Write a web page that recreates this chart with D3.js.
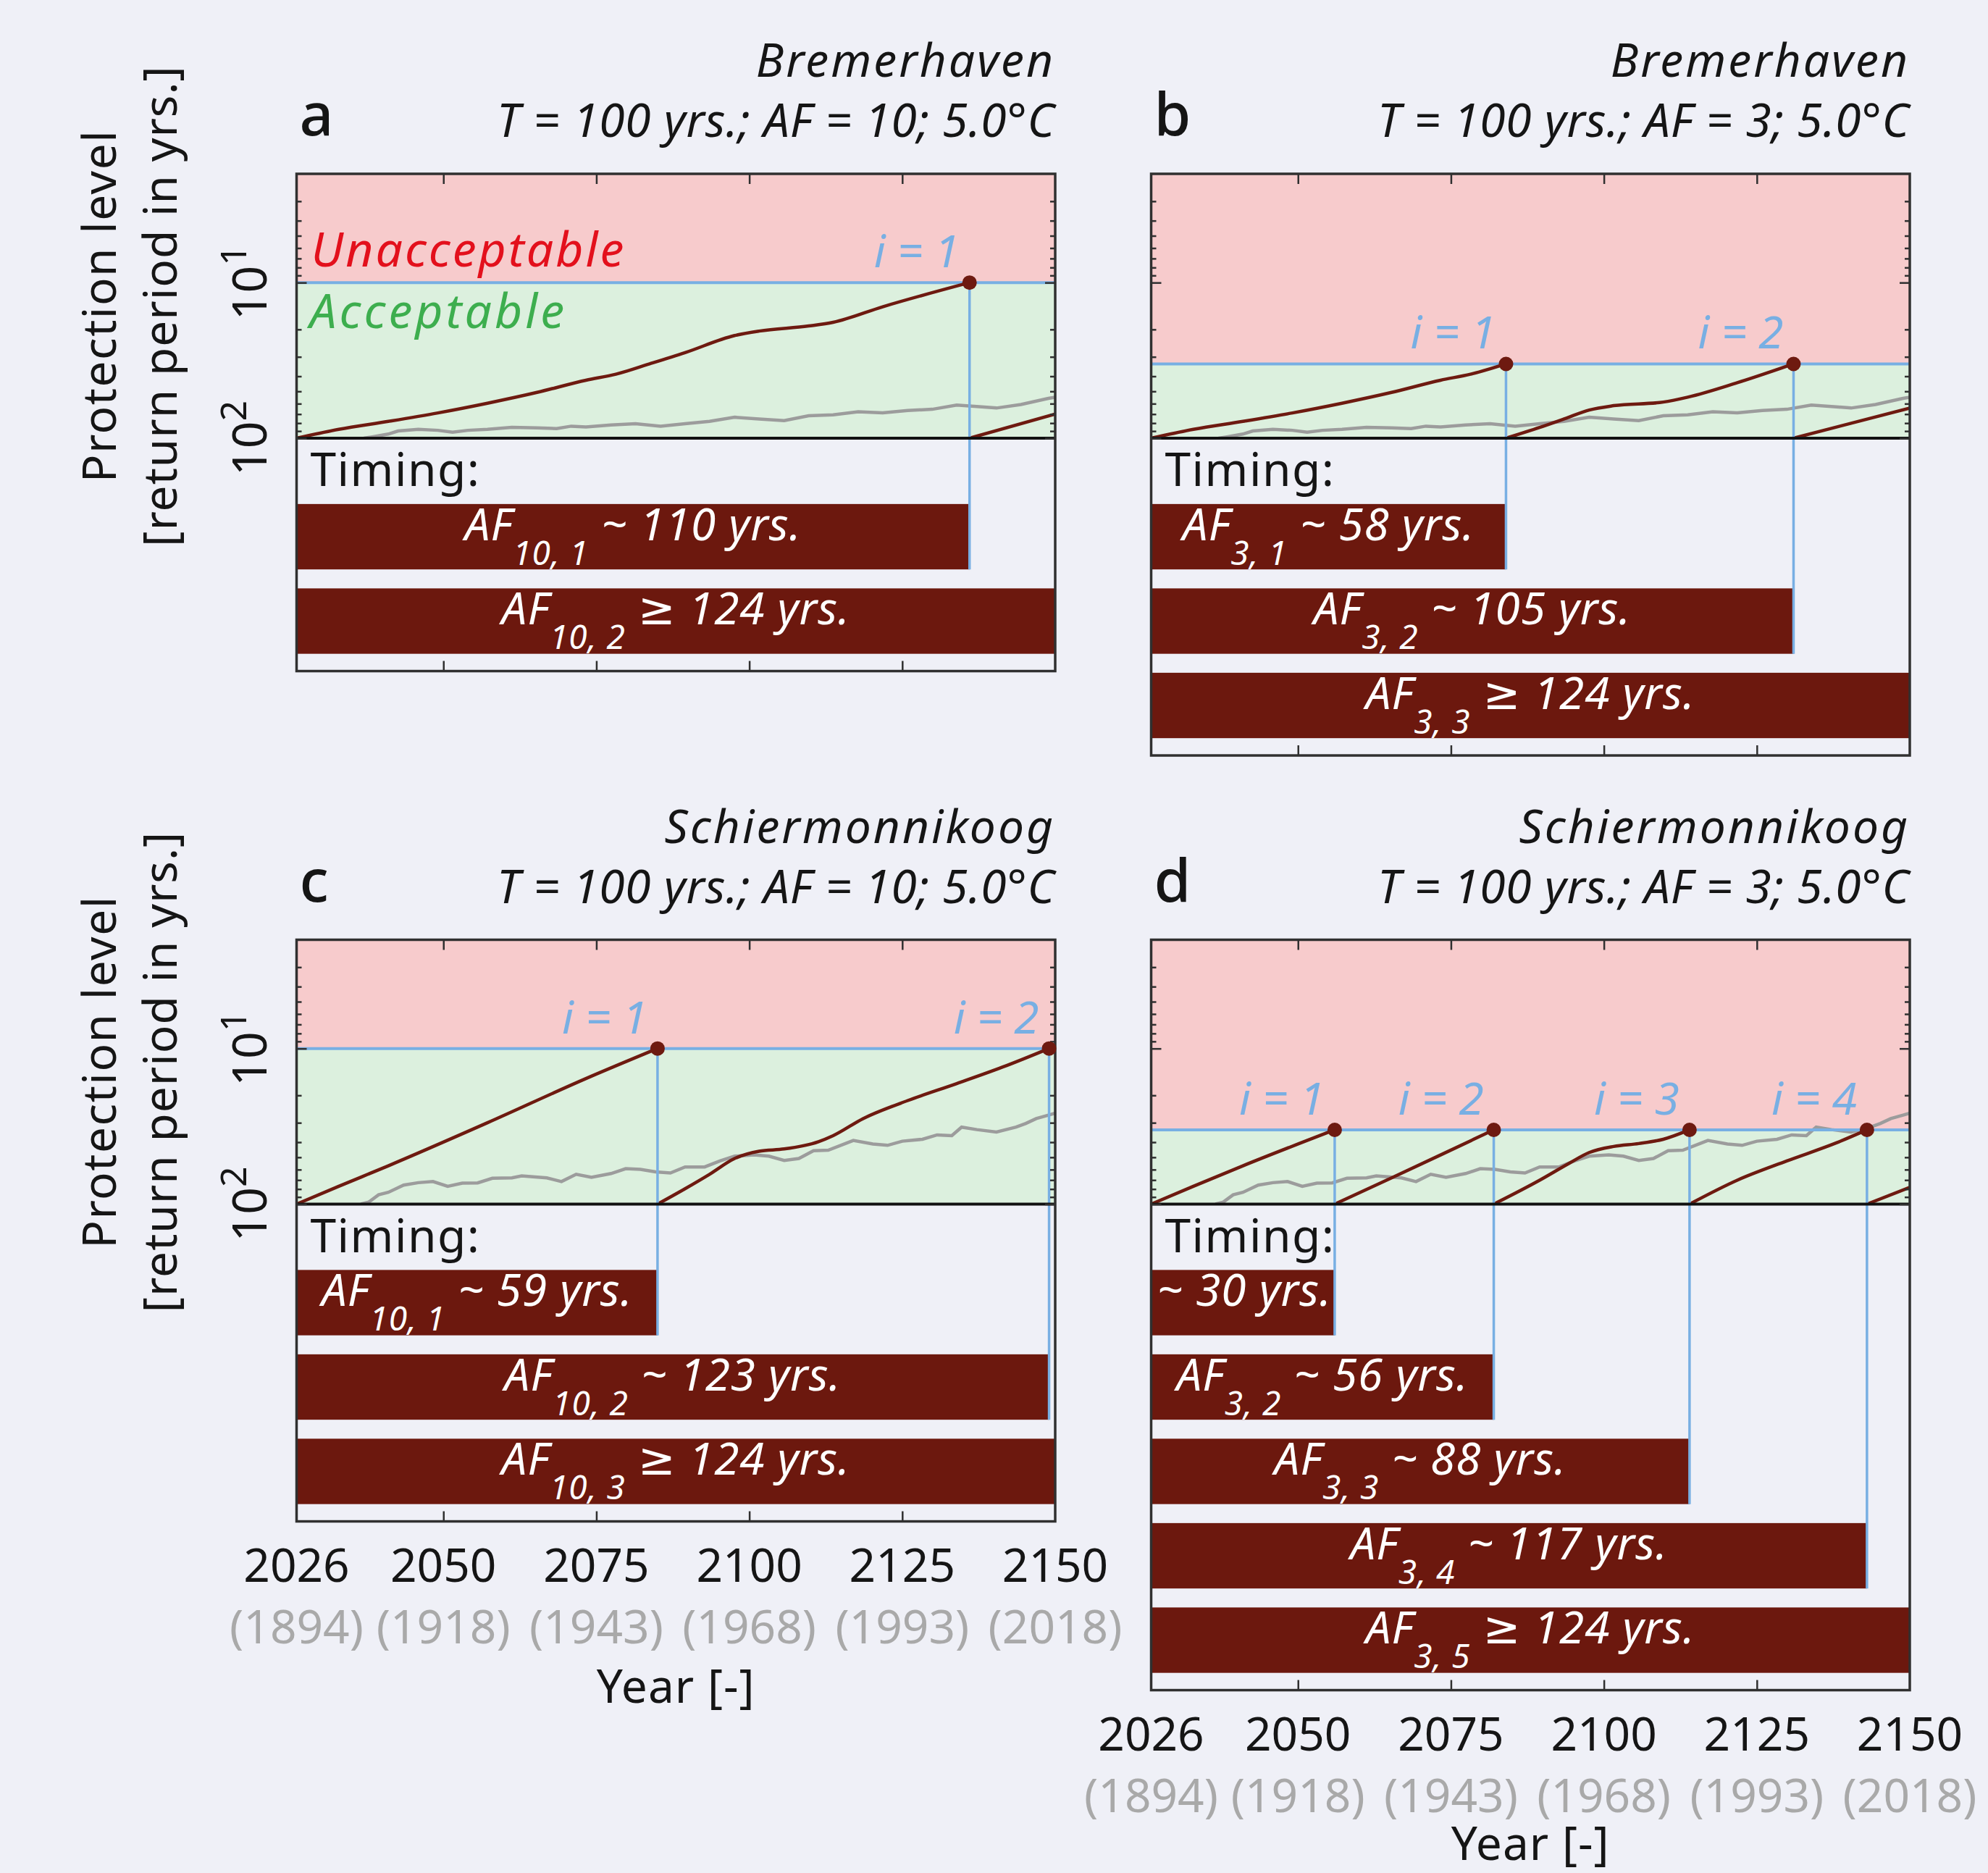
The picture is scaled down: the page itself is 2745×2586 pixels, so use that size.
<!DOCTYPE html>
<html>
<head>
<meta charset="utf-8">
<script src="https://cdn.jsdelivr.net/npm/d3@7"></script>
<style>
  body { margin: 0; background: #eff0f7; }
  svg text { font-family: "Noto Sans", "DejaVu Sans", sans-serif; }
</style>
</head>
<body>
<svg id="chart" width="2745" height="2586"></svg>
<script>
// ---- data ----
const yearTicks = [2026, 2050, 2075, 2100, 2125, 2150];
const refTicks = [1894, 1918, 1943, 1968, 1993, 2018];
const innerYearTicks = [2050, 2075, 2100, 2125];
const minorRP = [3, 4, 5, 6, 7, 8, 9, 20, 30, 40, 50, 60, 70, 80, 90];
const majorRP = [10, 100];
const labelRP = [10, 100];

// grey line, one per station: [year, return period]
const grayBremerhaven = [[2037, 100], [2038.2, 98.3], [2041.0, 94.1], [2042.6, 89.9], [2045.9, 87.7], [2049.1, 89.0],
  [2051.5, 91.6], [2054.0, 89.0], [2057.2, 87.7], [2061.2, 85.2], [2065.3, 85.8], [2068.5, 86.7], [2070.9, 83.7],
  [2073.3, 84.6], [2077.4, 82.2], [2081.4, 80.8], [2085.5, 83.7], [2089.5, 80.8], [2093.5, 78.0], [2097.6, 73.3],
  [2101.6, 75.2], [2105.7, 77.1], [2109.7, 71.8], [2113.7, 70.8], [2117.8, 67.6], [2121.8, 68.8], [2125.9, 66.4],
  [2129.9, 65.2], [2133.9, 61.3], [2138.0, 62.9], [2140.4, 64.0], [2144.4, 60.7], [2148.9, 55.5], [2150, 54.5]];
const graySchiermonnikoog = [[2036.5, 100], [2037.8, 97], [2039.4, 87.1], [2041.0, 84.0], [2043.5, 75.5], [2045.9, 72.8],
  [2048.3, 71.6], [2050.7, 76.8], [2053.1, 73.3], [2055.6, 73.0], [2058.0, 68.2], [2061.2, 67.8], [2062.8, 65.9],
  [2066.9, 67.8], [2069.3, 71.6], [2071.7, 64.3], [2074.2, 67.3], [2077.4, 63.6], [2079.8, 59.2], [2082.2, 59.8],
  [2084.7, 62.0], [2087.1, 63.1], [2089.5, 57.7], [2092.7, 57.7], [2095.2, 52.8], [2097.6, 49.2], [2100.8, 48.3],
  [2103.2, 49.2], [2105.7, 52.4], [2108.1, 50.9], [2110.5, 45.4], [2112.9, 45.0], [2117.0, 39.0], [2120.2, 41.1],
  [2122.6, 41.9], [2125.0, 39.4], [2128.3, 38.3], [2130.7, 35.9], [2133.1, 36.3], [2134.7, 32.0], [2137.2, 33.2],
  [2140.4, 34.4], [2143.6, 32.0], [2145.2, 30.3], [2146.9, 28.2], [2148.9, 26.8], [2150, 26.0]];

// protection level curves (sawtooth segments)
const curvesA = [
  [[2026, 100], [2032.9, 87.7], [2041, 78], [2049.1, 68.8], [2057.2, 59.6], [2065.3, 50.8], [2073.3, 42.4], [2078.2, 38.8],
   [2083.7, 33.3], [2089.5, 28.2], [2097.6, 21.9], [2101.6, 20.5], [2109.7, 19.0], [2113.7, 18.0], [2121.8, 14.3], [2136, 10]],
  [[2136, 100], [2150, 70]]
];
const curvesB = [
  [[2026, 100], [2032.9, 87.7], [2041, 78], [2049.1, 68.8], [2057.2, 59.6], [2065.3, 50.8], [2073.3, 42.4], [2078.2, 38.8], [2084, 33.3]],
  [[2084, 100], [2089.5, 85.3], [2093.5, 75.2], [2097.6, 65.9], [2101.6, 61.8], [2109.7, 58.6], [2113.7, 54.5], [2121.8, 44.0], [2131, 33.3]],
  [[2131, 100], [2150, 64]]
];
const curvesC = [
  [[2026, 100], [2032.9, 76.8], [2041, 56.7], [2057.2, 30.0], [2073.3, 15.6], [2085, 10]],
  [[2085, 100], [2089.5, 79.6], [2093.5, 64.3], [2097.6, 50.9], [2101.6, 45.7], [2105.7, 44.2], [2111.3, 39.7], [2113.7, 36.3],
   [2118.6, 28.2], [2125.9, 21.6], [2133.9, 16.8], [2142, 12.9], [2149, 10]]
];
const curvesD = [
  [[2026, 100], [2032.9, 76.8], [2041, 56.7], [2056, 33.3]],
  [[2056, 100], [2065.3, 67.8], [2073.3, 48.3], [2082, 33.3]],
  [[2082, 100], [2089.5, 70.2], [2094.3, 54.7], [2097.6, 46.6], [2101.6, 42.6], [2105.7, 40.8], [2109.7, 38.3], [2114, 33.3]],
  [[2114, 100], [2121.8, 70.2], [2129.9, 52.8], [2138, 40.4], [2143, 33.3]],
  [[2143, 100], [2150, 78]]
];

// timing bars: subscript, relation, years after 2026
const timingA = [{ sub: "10, 1", rel: "~", yrs: 110 }, { sub: "10, 2", rel: "≥", yrs: 124 }];
const timingB = [{ sub: "3, 1", rel: "~", yrs: 58 }, { sub: "3, 2", rel: "~", yrs: 105 }, { sub: "3, 3", rel: "≥", yrs: 124 }];
const timingC = [{ sub: "10, 1", rel: "~", yrs: 59 }, { sub: "10, 2", rel: "~", yrs: 123 }, { sub: "10, 3", rel: "≥", yrs: 124 }];
const timingD = [{ sub: "3, 1", rel: "~", yrs: 30 }, { sub: "3, 2", rel: "~", yrs: 56 }, { sub: "3, 3", rel: "~", yrs: 88 },
  { sub: "3, 4", rel: "~", yrs: 117 }, { sub: "3, 5", rel: "≥", yrs: 124 }];

const panels = [
  { id: "a", station: "Bremerhaven", af: 10, col: 0, row: 0, curves: curvesA, gray: grayBremerhaven, timing: timingA },
  { id: "b", station: "Bremerhaven", af: 3, col: 1, row: 0, curves: curvesB, gray: grayBremerhaven, timing: timingB },
  { id: "c", station: "Schiermonnikoog", af: 10, col: 0, row: 1, curves: curvesC, gray: graySchiermonnikoog, timing: timingC },
  { id: "d", station: "Schiermonnikoog", af: 3, col: 1, row: 1, curves: curvesD, gray: graySchiermonnikoog, timing: timingD }
];

// ---- layout & style ----
const COL = {
  pink: "#f7cbcc", green: "#dcf0de", blue: "#78afe3", red: "#6e1a10", bar: "#6c180e",
  gray: "#9c9c9c", axis: "#303030", txt: "#151515", unacc: "#e3101c", acc: "#3dae4e", refTxt: "#a9a9a9"
};
const PW = 1047.5, PH = 365, ROW = 116.5, FS = 64;
const colX = [409.5, 1589.5], rowY = [240, 1297.5];

const svg = d3.select("#chart");

panels.forEach((p, k) => {
  const left = colX[p.col], top = rowY[p.row], right = left + PW;
  const x = d3.scaleLinear().domain([2026, 2150]).range([left, right]);
  const y = d3.scaleLog().domain([2, 100]).range([top, top + PH]);
  const divY = y(100);
  const n = p.timing.length;
  const r = d3.scaleLinear().domain([0, 1]).range([divY, divY + ROW]);
  const bottom = r(n + 0.76);
  const thr = 100 / p.af;
  const g = svg.append("g");

  const defs = g.append("defs");
  defs.append("clipPath").attr("id", "cp" + k).append("rect")
    .attr("x", left).attr("y", top).attr("width", PW).attr("height", PH);
  defs.append("clipPath").attr("id", "cl" + k).append("rect")
    .attr("x", left).attr("y", divY).attr("width", PW).attr("height", bottom - divY);

  // shaded zones
  g.append("rect").attr("x", left).attr("y", top).attr("width", PW).attr("height", y(thr) - top).attr("fill", COL.pink);
  g.append("rect").attr("x", left).attr("y", y(thr)).attr("width", PW).attr("height", divY - y(thr)).attr("fill", COL.green);

  if (p.id === "a") {
    g.append("text").attr("x", left + 20).attr("y", y(thr) - 22).attr("font-size", 66).attr("font-style", "italic")
      .attr("letter-spacing", 3).attr("fill", COL.unacc).text("Unacceptable");
    g.append("text").attr("x", left + 18).attr("y", y(thr) + 63).attr("font-size", 66).attr("font-style", "italic")
      .attr("letter-spacing", 4).attr("fill", COL.acc).text("Acceptable");
  }

  const plot = g.append("g").attr("clip-path", "url(#cp" + k + ")");
  const line = d3.line().x(d => x(d[0])).y(d => y(d[1]));

  plot.append("path").datum(p.gray).attr("d", line).attr("fill", "none")
    .attr("stroke", COL.gray).attr("stroke-width", 4.5);

  plot.append("line").attr("x1", left).attr("x2", right).attr("y1", y(thr)).attr("y2", y(thr))
    .attr("stroke", COL.blue).attr("stroke-width", 4);

  const smooth = d3.line().x(d => x(d[0])).y(d => y(d[1])).curve(d3.curveMonotoneX);
  plot.selectAll(".seg").data(p.curves).enter().append("path")
    .attr("d", smooth).attr("fill", "none").attr("stroke", COL.red).attr("stroke-width", 4.5);

  // timing section
  g.append("text").attr("x", left + 19).attr("y", r(0.57)).attr("font-size", FS).attr("letter-spacing", 1.5)
    .attr("fill", COL.txt).text("Timing:");

  const low = g.append("g").attr("clip-path", "url(#cl" + k + ")");
  const barTop = i => r(i + 0.78);
  const barH = r(0.775) - r(0);
  low.selectAll("rect").data(p.timing).enter().append("rect")
    .attr("x", left).attr("y", (d, i) => barTop(i))
    .attr("width", d => x(Math.min(2150, 2026 + d.yrs)) - left).attr("height", barH)
    .attr("fill", COL.bar);

  p.timing.forEach((d, i) => {
    const x1 = x(Math.min(2150, 2026 + d.yrs));
    const t = low.append("text").attr("x", (left + x1) / 2).attr("y", barTop(i) + 50)
      .attr("text-anchor", "middle").attr("font-style", "italic").attr("font-size", 62)
      .attr("letter-spacing", 1).attr("fill", "#fff");
    t.append("tspan").text("AF");
    t.append("tspan").attr("font-size", 46).attr("dy", 34).text(d.sub);
    t.append("tspan").attr("dy", -34).text(" " + d.rel + " " + d.yrs + " yrs.");
    const w = t.node().getComputedTextLength();
    if (w > x1 - left - 8) t.attr("text-anchor", "end").attr("x", x1 - 4);
  });

  // adaptation moments
  const adapt = p.timing.map((d, i) => ({ yr: 2026 + d.yrs, i: i, rel: d.rel })).filter(d => d.rel === "~");
  g.selectAll(".vl").data(adapt).enter().append("line")
    .attr("x1", d => x(d.yr)).attr("x2", d => x(d.yr))
    .attr("y1", y(thr)).attr("y2", d => barTop(d.i) + barH)
    .attr("stroke", COL.blue).attr("stroke-width", 3.5);

  g.append("line").attr("x1", left).attr("x2", right).attr("y1", divY).attr("y2", divY)
    .attr("stroke", "#111").attr("stroke-width", 4);
  g.append("rect").attr("x", left).attr("y", top).attr("width", PW).attr("height", bottom - top)
    .attr("fill", "none").attr("stroke", COL.axis).attr("stroke-width", 3.5);

  // ticks (inward)
  const tickStyle = sel => {
    sel.select(".domain").remove();
    sel.selectAll("line").attr("stroke", COL.axis).attr("stroke-width", 2.5);
  };
  g.append("g").attr("transform", `translate(0,${top})`)
    .call(d3.axisTop(x).tickValues(innerYearTicks).tickSize(-14).tickFormat("")).call(tickStyle);
  g.append("g").attr("transform", `translate(0,${bottom})`)
    .call(d3.axisBottom(x).tickValues(innerYearTicks).tickSize(-14).tickFormat("")).call(tickStyle);
  g.append("g").attr("transform", `translate(${left},0)`)
    .call(d3.axisLeft(y).tickValues(minorRP).tickSize(-7).tickFormat("")).call(tickStyle);
  g.append("g").attr("transform", `translate(${left},0)`)
    .call(d3.axisLeft(y).tickValues(majorRP).tickSize(-14).tickFormat("")).call(tickStyle);
  g.append("g").attr("transform", `translate(${right},0)`)
    .call(d3.axisRight(y).tickValues(minorRP).tickSize(-7).tickFormat("")).call(tickStyle);
  g.append("g").attr("transform", `translate(${right},0)`)
    .call(d3.axisRight(y).tickValues(majorRP).tickSize(-14).tickFormat("")).call(tickStyle);

  // dots and i-labels
  g.selectAll(".dot").data(adapt).enter().append("circle")
    .attr("cx", d => x(d.yr)).attr("cy", y(thr)).attr("r", 10).attr("fill", COL.red);
  g.selectAll(".il").data(adapt).enter().append("text")
    .attr("x", d => x(d.yr) - 14).attr("y", y(thr) - 21).attr("text-anchor", "end")
    .attr("font-size", 62).attr("font-style", "italic").attr("fill", COL.blue)
    .text(d => "i = " + (d.i + 1));

  // titles
  g.append("text").attr("x", right).attr("y", top - 134).attr("text-anchor", "end").attr("font-size", FS)
    .attr("font-style", "italic").attr("letter-spacing", 3).attr("fill", COL.txt).text(p.station);
  g.append("text").attr("x", right).attr("y", top - 51).attr("text-anchor", "end").attr("font-size", FS)
    .attr("font-style", "italic").attr("letter-spacing", 0.8).attr("fill", COL.txt)
    .text("T = 100 yrs.; AF = " + p.af + "; 5.0°C");
  g.append("text").attr("x", left + 4).attr("y", top - 53).attr("font-size", 82).attr("font-weight", 500)
    .attr("fill", COL.txt).text(p.id);

  // x tick labels on the bottom row
  if (p.row === 1) {
    g.selectAll(".xl").data(yearTicks).enter().append("text")
      .attr("x", d => x(d)).attr("y", bottom + 83).attr("text-anchor", "middle")
      .attr("font-size", FS).attr("fill", COL.txt).text(d => d);
    g.selectAll(".xr").data(refTicks).enter().append("text")
      .attr("x", (d, i) => x(yearTicks[i])).attr("y", bottom + 168).attr("text-anchor", "middle")
      .attr("font-size", FS).attr("fill", COL.refTxt).text(d => "(" + d + ")");
    g.append("text").attr("x", (left + right) / 2).attr("y", Math.min(bottom + 250, 2568)).attr("text-anchor", "middle")
      .attr("font-size", FS).attr("letter-spacing", 1).attr("fill", COL.txt).text("Year [-]");
  }

  // y labels on the left column
  if (p.col === 0) {
    labelRP.forEach(v => {
      const t = g.append("text").attr("transform", `translate(${left - 42},${y(v)}) rotate(-90)`)
        .attr("text-anchor", "middle").attr("font-size", 66).attr("fill", COL.txt);
      t.append("tspan").text("10");
      t.append("tspan").attr("font-size", 50).attr("dy", -28).text(Math.round(Math.log10(v)));
    });
    const cy = (top + divY) / 2;
    g.append("text").attr("transform", `translate(160,${cy}) rotate(-90)`).attr("text-anchor", "middle")
      .attr("font-size", FS).attr("letter-spacing", 1.5).attr("fill", COL.txt).text("Protection level");
    g.append("text").attr("transform", `translate(244,${cy}) rotate(-90)`).attr("text-anchor", "middle")
      .attr("font-size", FS).attr("letter-spacing", 1).attr("fill", COL.txt).text("[return period in yrs.]");
  }
});
</script>
</body>
</html>
